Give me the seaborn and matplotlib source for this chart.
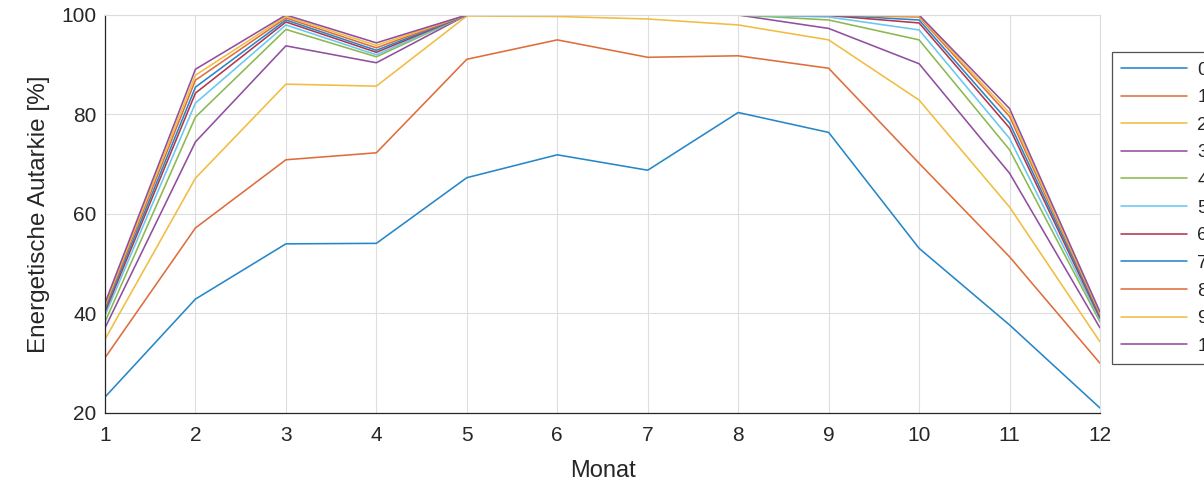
import numpy as np
import pandas as pd
import matplotlib
matplotlib.use("Agg")
import matplotlib.pyplot as plt
import matplotlib.colors as mcolors
import seaborn as sns

months = list(range(1, 13))
series_labels = ["0", "1", "2", "3", "4", "5", "6", "7", "8", "9", "10"]

s0 = [23.2, 42.9, 54.0, 54.1, 67.3, 71.9, 68.8, 80.4, 76.4, 53.1, 37.7, 21.0]
s1 = [31.1, 57.2, 70.9, 72.3, 91.1, 95.0, 91.5, 91.8, 89.3, 70.2, 51.4, 30.0]
s2 = [34.8, 67.2, 86.1, 85.7, 99.8, 99.7, 99.2, 98.0, 95.0, 82.9, 61.4, 34.3]
s3 = [37.1, 74.5, 93.8, 90.4, 100.0, 100.0, 100.0, 100.0, 97.3, 90.2, 68.2, 37.1]
s4 = [38.3, 79.5, 97.1, 91.6, 100.0, 100.0, 100.0, 100.0, 99.0, 95.0, 72.9, 38.3]
s5 = [39.6, 82.3, 98.0, 92.0, 100.0, 100.0, 100.0, 100.0, 99.6, 97.0, 75.2, 38.7]
s6 = [40.3, 84.3, 98.6, 92.5, 100.0, 100.0, 100.0, 100.0, 99.9, 98.4, 77.3, 39.1]
s7 = [40.8, 85.5, 99.0, 92.9, 100.0, 100.0, 100.0, 100.0, 100.0, 99.0, 78.3, 39.5]
s8 = [41.3, 86.9, 99.4, 93.4, 100.0, 100.0, 100.0, 100.0, 100.0, 99.6, 79.6, 39.8]
s9 = [41.7, 87.9, 99.7, 93.9, 100.0, 100.0, 100.0, 100.0, 100.0, 99.8, 80.3, 40.0]
s10 = [42.1, 89.1, 100.0, 94.4, 100.0, 100.0, 100.0, 100.0, 100.0, 100.0, 81.2, 40.3]

all_series = [s0, s1, s2, s3, s4, s5, s6, s7, s8, s9, s10]

y_ticks = [20, 40, 60, 80, 100]

# MATLAB-style default colour order, cycled, softened slightly
base_colors = ["#0072BD", "#D95319", "#EDB120", "#7E2F8E", "#77AC30",
               "#4DBEEE", "#A2142F"]


def soften(c, amount=0.15):
    rgb = np.array(mcolors.to_rgb(c))
    return tuple(rgb + (1 - rgb) * amount)


palette = [soften(base_colors[i % len(base_colors)])
           for i in range(len(series_labels))]

rows = []
for lab, vals in zip(series_labels, all_series):
    for m, v in zip(months, vals):
        rows.append({"Monat": m, "Autarkie": v, "Serie": lab})
df = pd.DataFrame(rows)

sns.set_theme(style="white")
plt.rcParams["font.family"] = ["Liberation Sans", "DejaVu Sans"]

fig = plt.figure(figsize=(12.04, 4.9), dpi=100)
ax = fig.add_axes([105 / 1204, 77 / 490, 995 / 1204, 398 / 490])

sns.lineplot(data=df, x="Monat", y="Autarkie", hue="Serie",
             hue_order=series_labels, palette=palette, linewidth=1.15,
             ax=ax, legend=False)

ax.set_xlim(1, 12)
ax.set_ylim(20, 100)
ax.set_xticks(months)
ax.set_yticks(y_ticks)
ax.grid(True, color="#dedede", linewidth=0.8)
ax.tick_params(direction="in", length=5, width=0.8, colors="#262626",
               labelsize=15)
ax.tick_params(axis="x", pad=9)
ax.tick_params(axis="y", pad=6)
for side in ["left", "bottom"]:
    ax.spines[side].set_color("#262626")
    ax.spines[side].set_linewidth(0.9)
for side in ["top", "right"]:
    ax.spines[side].set_color("#dcdcdc")
    ax.spines[side].set_linewidth(0.8)

ax.set_xlabel("Monat", fontsize=17, color="#262626", labelpad=11)
ax.set_ylabel("Energetische Autarkie [%]", fontsize=17.5, color="#262626",
              labelpad=8)

handles = ax.get_lines()[:len(series_labels)]
leg = ax.legend(handles, series_labels, loc="upper left",
                bbox_to_anchor=(1.012, 0.907), frameon=True, fancybox=False,
                edgecolor="#262626", fontsize=13.5, handlelength=3.5,
                handletextpad=0.55, labelspacing=0.56, borderpad=0.5,
                borderaxespad=0)
leg.get_frame().set_linewidth(0.9)
for t in leg.get_texts():
    t.set_color("#262626")

fig.savefig("out.png", dpi=100)
